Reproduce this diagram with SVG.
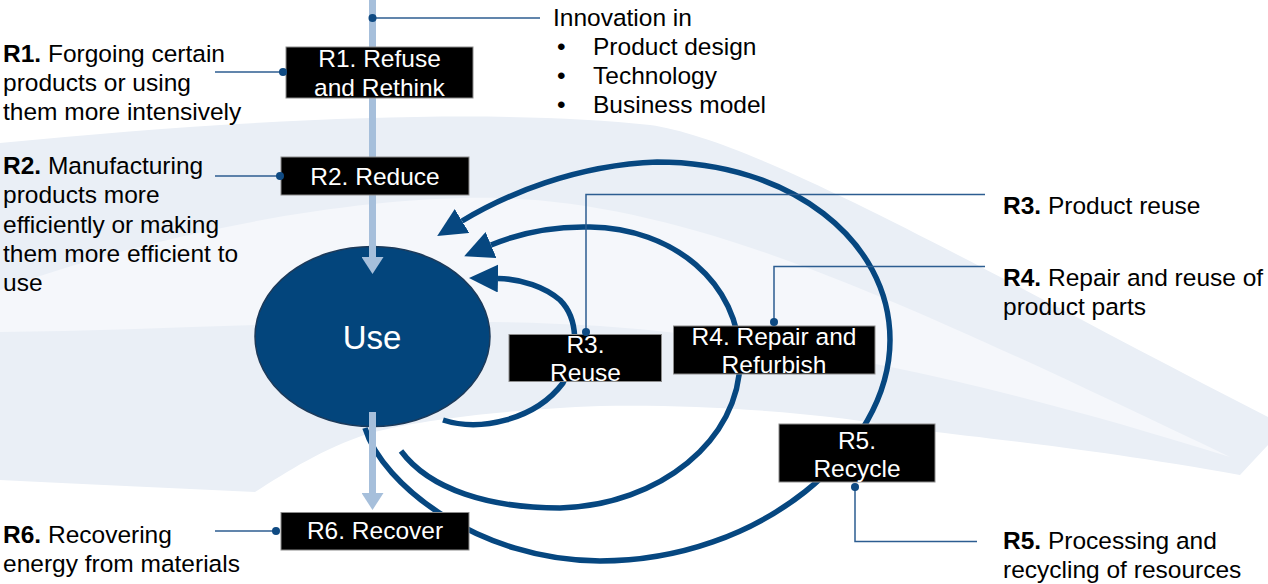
<svg xmlns="http://www.w3.org/2000/svg" width="1268" height="584" viewBox="0 0 1268 584">
  <style>
    text { font-family: "Liberation Sans", Arial, sans-serif; font-size: 24.5px; fill: #000; }
    .b { font-weight: bold; }
    .box { fill: #000; stroke: #8c8c8c; stroke-width: 1; }
    .boxtxt { fill: #fff; text-anchor: middle; }
    .loop { fill: none; stroke: #064780; stroke-width: 5.5; marker-end: url(#bigHead); }
    .shaft { fill: none; stroke: #a6bfdb; stroke-width: 7; marker-end: url(#lightHead); }
    .leader { fill: none; stroke: #2c5d91; stroke-width: 1.5; }
    .dot { fill: #0f4a82; }
    .wm { fill: #eaeff6; }
  </style>
  <defs>
    <marker id="bigHead" markerUnits="userSpaceOnUse" markerWidth="29" markerHeight="28" viewBox="0 0 29 28" refX="0" refY="14" orient="auto">
      <path d="M0,0 L29,14 L0,28 Z" fill="#064780"/>
    </marker>
    <marker id="lightHead" markerUnits="userSpaceOnUse" markerWidth="17" markerHeight="22" viewBox="0 0 17 22" refX="0" refY="11" orient="auto">
      <path d="M0,0 L17,11 L0,22 Z" fill="#a6bfdb"/>
    </marker>
  </defs>

  <rect width="1268" height="584" fill="#fff"/>

  <!-- faint background watermark -->
  <g id="watermark">
    <path class="wm" d="M0,143 C250,118 500,108 650,125 C760,140 1000,280 1268,417 L1268,445 L1240,475 C1100,450 1000,440 920,430 C820,412 700,404 600,406 C500,410 420,420 370,433 C320,450 290,470 255,492 C170,488 80,484 0,480 Z"/>
    <path d="M0,290 C150,235 350,195 500,198 C700,205 900,300 1230,457 C1000,385 800,340 600,326 C400,314 200,330 0,332 Z" fill="#f5f7fb"/>
  </g>

  <g id="node-use">
    <ellipse cx="372.5" cy="336.5" rx="117.5" ry="90" fill="#03457c" stroke="#1c3a5a" stroke-width="1.5"/>
    <text x="372" y="349" class="boxtxt" style="font-size:33px">Use</text>
  </g>

  <g id="connectors">
    <!-- R5 outer loop -->
    <path class="loop" d="M365,428 C382,485 480,561 600,561 C760,561 890,450 890,340 C890,240 790,162 657,162 C575,165 505,195 462,221"/>
    <!-- R4 middle loop -->
    <path class="loop" d="M401,451 C430,490 490,508 560,508 C660,505 740,440 740,360 C740,282 672,228 590,227 C550,226 515,235 491,245"/>
    <!-- R3 inner loop -->
    <path class="loop" d="M443,420 C480,432 535,420 563,383 C580,352 578,318 560,300 C545,287 522,279 498,278.5"/>
    <!-- vertical flow arrows -->
    <path class="shaft" d="M372.5,0 L372.5,257"/>
    <path class="shaft" d="M372.5,412 L372.5,493"/>
  </g>

  <g id="node-r1">
    <rect class="box" x="286" y="47" width="187" height="51"/>
    <text class="boxtxt" x="379.5" y="67">R1. Refuse</text>
    <text class="boxtxt" x="379.5" y="95.5">and Rethink</text>
  </g>
  <g id="node-r2">
    <rect class="box" x="281" y="157" width="188" height="38"/>
    <text class="boxtxt" x="375" y="184.5">R2. Reduce</text>
  </g>
  <g id="node-r3">
    <rect class="box" x="509" y="334.5" width="152.5" height="47"/>
    <text class="boxtxt" x="585.5" y="352.5">R3.</text>
    <text class="boxtxt" x="585.5" y="381">Reuse</text>
  </g>
  <g id="node-r4">
    <rect class="box" x="673.5" y="326" width="201.5" height="48"/>
    <text class="boxtxt" x="774" y="345">R4. Repair and</text>
    <text class="boxtxt" x="774" y="373">Refurbish</text>
  </g>
  <g id="node-r5">
    <rect class="box" x="779" y="424" width="156" height="58"/>
    <text class="boxtxt" x="857" y="449">R5.</text>
    <text class="boxtxt" x="857" y="477">Recycle</text>
  </g>
  <g id="node-r6">
    <rect class="box" x="281" y="512.5" width="188" height="37.5"/>
    <text class="boxtxt" x="375" y="539">R6. Recover</text>
  </g>

  <g id="leaders">
    <path class="leader" d="M372.5,18 L540,18"/>
    <circle class="dot" cx="372.5" cy="18" r="4"/>
    <path class="leader" d="M215,72 L283,72"/>
    <circle class="dot" cx="283" cy="72" r="4"/>
    <path class="leader" d="M215,176 L280,176"/>
    <circle class="dot" cx="280" cy="176" r="4"/>
    <path class="leader" d="M215,531 L276,531"/>
    <circle class="dot" cx="276" cy="531" r="4"/>
    <path class="leader" d="M586,332 L586,194.5 L985,194.5"/>
    <circle class="dot" cx="586" cy="332" r="4"/>
    <path class="leader" d="M774,322 L774,266.5 L985,266.5"/>
    <circle class="dot" cx="774" cy="322" r="4"/>
    <path class="leader" d="M855,487 L855,541.5 L977,541.5"/>
    <circle class="dot" cx="855" cy="487" r="4"/>
  </g>

  <g id="label-innovation">
    <text x="553" y="25.5">Innovation in</text>
    <text x="557" y="54.5">•</text>
    <text x="593" y="54.5">Product design</text>
    <text x="557" y="83.5">•</text>
    <text x="593" y="83.5">Technology</text>
    <text x="557" y="112.5">•</text>
    <text x="593" y="112.5">Business model</text>
  </g>

  <g id="label-r1">
    <text x="3" y="61.5"><tspan class="b">R1.</tspan> Forgoing certain</text>
    <text x="3" y="90.5">products or using</text>
    <text x="3" y="119.5">them more intensively</text>
  </g>
  <g id="label-r2">
    <text x="3" y="174"><tspan class="b">R2.</tspan> Manufacturing</text>
    <text x="3" y="203.3">products more</text>
    <text x="3" y="232.6">efficiently or making</text>
    <text x="3" y="262">them more efficient to</text>
    <text x="3" y="291">use</text>
  </g>
  <g id="label-r6">
    <text x="3" y="542.5"><tspan class="b">R6.</tspan> Recovering</text>
    <text x="3" y="571.5">energy from materials</text>
  </g>
  <g id="label-r3">
    <text x="1003" y="214"><tspan class="b">R3.</tspan> Product reuse</text>
  </g>
  <g id="label-r4">
    <text x="1003" y="285.5"><tspan class="b">R4.</tspan> Repair and reuse of</text>
    <text x="1003" y="314.5">product parts</text>
  </g>
  <g id="label-r5">
    <text x="1003" y="548.5"><tspan class="b">R5.</tspan> Processing and</text>
    <text x="1003" y="577.5">recycling of resources</text>
  </g>
</svg>
